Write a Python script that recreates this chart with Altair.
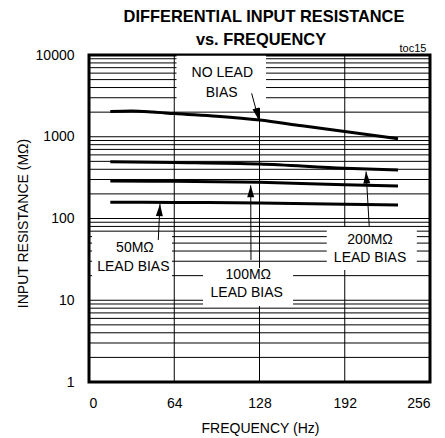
import altair as alt
import pandas as pd

# ---- data ----
freq_nolead = [16, 32, 48, 64, 96, 128, 160, 192, 232]
r_nolead = [2040, 2070, 2010, 1920, 1780, 1600, 1360, 1160, 945]
freq_bias = [16, 64, 128, 192, 232]
r_200 = [495, 485, 465, 412, 392]
r_100 = [288, 285, 277, 259, 250]
r_50 = [158, 157, 155, 149, 146]

x_ticks = [0, 64, 128, 192, 256]
y_ticks = [1, 10, 100, 1000, 10000]
grid_y = [k * 10 ** d for d in range(4) for k in range(1, 10)] + [10000]
grid_x = [64, 128, 192]

title_lines = ["DIFFERENTIAL INPUT RESISTANCE", "vs. FREQUENCY"]

# annotation text (label, Hz, MOhm)
lab_text = ["NO LEAD", "BIAS", "50MΩ", "LEAD BIAS", "100MΩ", "LEAD BIAS", "200MΩ", "LEAD BIAS"]
lab_x = [100.1, 99.6, 34.5, 33.3, 119.6, 118.4, 211, 211]
lab_y = [5970, 3460, 43.2, 25.7, 20.4, 12.2, 54.6, 32.6]

# white label boxes
box_x1 = [65.7, 2.3, 85.6, 178.5]
box_x2 = [132.9, 62.3, 153.2, 246.1]
box_y1 = [2250, 14.1, 8.5, 23.4]
box_y2 = [9800, 64.6, 24.8, 78.7]

# arrows: tail -> tip
arr_x1 = [122.1, 52.0, 121.6, 210.4]
arr_y1 = [3400, 54.6, 31.1, 79.4]
arr_x2 = [127.5, 53.3, 121.4, 208.0]
arr_y2 = [1600, 150, 255, 375]
arr_angle = [166, 3, 0, 356.5]

FONT = "Liberation Sans, Arial, sans-serif"
FS = 14

curves = pd.DataFrame(
    [{"f": f, "r": r, "s": "none"} for f, r in zip(freq_nolead, r_nolead)]
    + [{"f": f, "r": r, "s": "200"} for f, r in zip(freq_bias, r_200)]
    + [{"f": f, "r": r, "s": "100"} for f, r in zip(freq_bias, r_100)]
    + [{"f": f, "r": r, "s": "50"} for f, r in zip(freq_bias, r_50)]
)

xs = alt.Scale(domain=[0, 256], nice=False)
ys = alt.Scale(type="log", domain=[1, 10000], nice=False)

hgrid = alt.Chart(pd.DataFrame({"v": grid_y})).mark_rule(color="black", strokeWidth=1).encode(
    y=alt.Y("v:Q", scale=ys,
            axis=alt.Axis(values=y_ticks, format="d", grid=False, ticks=False, domain=False,
                          labelPadding=15, labelFont=FONT, labelFontSize=FS, labelColor="black",
                          title="INPUT RESISTANCE (MΩ)", titleFont=FONT, titleFontSize=FS,
                          titleFontWeight="normal", titleColor="black", titleX=-66, titleY=168,
                          titleAngle=-90, titleAlign="center", titleBaseline="middle"))
)
vgrid = alt.Chart(pd.DataFrame({"v": grid_x})).mark_rule(color="black", strokeWidth=1).encode(
    x=alt.X("v:Q", scale=xs,
            axis=alt.Axis(values=x_ticks, grid=False, ticks=False, domain=False,
                          labelPadding=14, labelFont=FONT, labelFontSize=FS, labelColor="black",
                          title="FREQUENCY (Hz)", titleFont=FONT, titleFontSize=FS,
                          titleFontWeight="normal", titleColor="black", titleX=171, titleY=46,
                          titleAlign="center", titleBaseline="middle"))
)

boxes = alt.Chart(pd.DataFrame({"x1": box_x1, "x2": box_x2, "y1": box_y1, "y2": box_y2})).mark_rect(
    color="white", opacity=1
).encode(x=alt.X("x1:Q", scale=xs), x2="x2:Q", y=alt.Y("y1:Q", scale=ys), y2="y2:Q")

lines = alt.Chart(curves).mark_line(color="black", strokeWidth=3, interpolate="monotone").encode(
    x=alt.X("f:Q", scale=xs), y=alt.Y("r:Q", scale=ys), detail="s:N"
)

arrows_df = pd.DataFrame({"x1": arr_x1, "y1": arr_y1, "x2": arr_x2, "y2": arr_y2, "a": arr_angle})
shafts = alt.Chart(arrows_df).mark_rule(color="black", strokeWidth=1).encode(
    x=alt.X("x1:Q", scale=xs), y=alt.Y("y1:Q", scale=ys), x2="x2:Q", y2="y2:Q"
)
heads = alt.Chart(arrows_df).mark_point(
    shape="M0,0L0.7,2.4L-0.7,2.4Z", filled=True, color="black", opacity=1, size=100
).encode(x=alt.X("x2:Q", scale=xs), y=alt.Y("y2:Q", scale=ys), angle=alt.Angle("a:Q", scale=None))

labels = alt.Chart(pd.DataFrame({"t": lab_text, "x": lab_x, "y": lab_y})).mark_text(
    font=FONT, fontSize=FS, color="black", align="center", baseline="middle"
).encode(x=alt.X("x:Q", scale=xs), y=alt.Y("y:Q", scale=ys), text="t:N")

toc = alt.Chart(pd.DataFrame({"t": ["toc15"]})).mark_text(
    font=FONT, fontSize=11, color="black", align="center", baseline="middle"
).encode(x=alt.value(324), y=alt.value(-6), text="t:N")

title1 = alt.Chart(pd.DataFrame({"t": [title_lines[0]]})).mark_text(
    font=FONT, fontSize=16.4, fontWeight="bold", color="black", align="center", baseline="middle"
).encode(x=alt.value(175), y=alt.value(-38), text="t:N")
title2 = alt.Chart(pd.DataFrame({"t": [title_lines[1]]})).mark_text(
    font=FONT, fontSize=16.4, fontWeight="bold", color="black", align="center", baseline="middle"
).encode(x=alt.value(172), y=alt.value(-15), text="t:N")

chart = alt.layer(hgrid, vgrid, boxes, lines, shafts, heads, labels, toc, title1, title2).properties(
    width=341, height=327,
    autosize=alt.AutoSizeParams(type="none"),
    padding={"left": 81, "top": 47, "right": 7, "bottom": 55},
).configure_view(stroke="black", strokeWidth=3)

chart.save("out.html", embed_options={"renderer": "svg", "actions": False})
